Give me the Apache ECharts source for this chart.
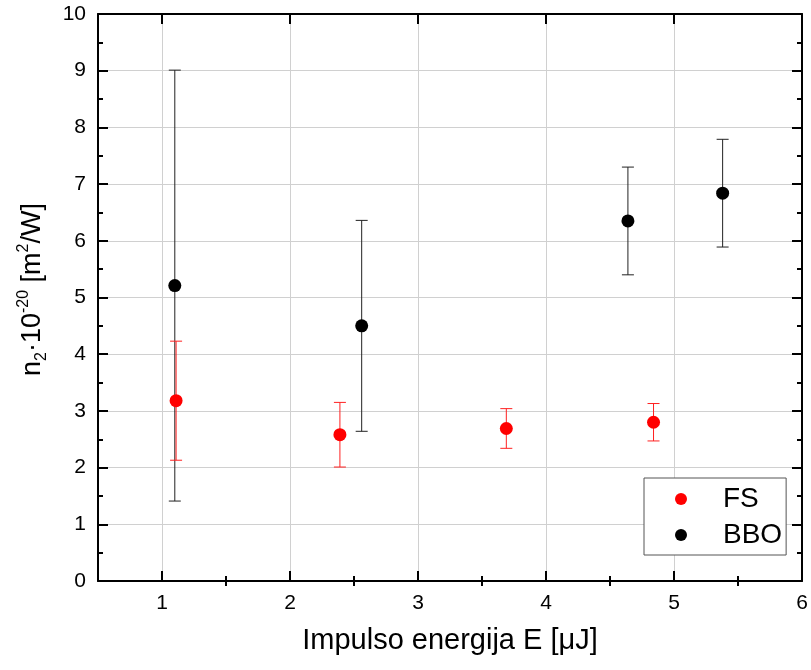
<!DOCTYPE html>
<html>
<head>
<meta charset="utf-8">
<script src="https://cdn.jsdelivr.net/npm/echarts@6/dist/echarts.min.js"></script>
<style>
html,body{margin:0;padding:0;background:#fff;}
#chart{width:811px;height:670px;}
</style>
</head>
<body>
<div id="chart"></div>
<script>
// ---- data ----
var fsX = [1.11, 2.39, 3.69, 4.84];
var fsY = [3.18, 2.58, 2.69, 2.80];
var fsErr = [1.05, 0.57, 0.35, 0.33];

var bboX = [1.10, 2.56, 4.64, 5.38];
var bboY = [5.21, 4.50, 6.35, 6.84];
var bboErr = [3.80, 1.86, 0.95, 0.95];

var xTickValues = [1, 2, 3, 4, 5, 6];
var xMinorValues = [1.5, 2.5, 3.5, 4.5, 5.5];
var yTickValues = [0, 1, 2, 3, 4, 5, 6, 7, 8, 9, 10];
var yMinorValues = [0.5, 1.5, 2.5, 3.5, 4.5, 5.5, 6.5, 7.5, 8.5, 9.5];
var seriesNames = ['FS', 'BBO'];

var FONT = 'Liberation Sans, Arial, sans-serif';

function pts(xs, ys) { return xs.map(function (x, i) { return [x, ys[i]]; }); }
function errs(xs, ys, es) { return xs.map(function (x, i) { return [x, ys[i] - es[i], ys[i] + es[i]]; }); }

function errRender(color) {
  return function (params, api) {
    var x = api.value(0);
    var lo = api.coord([x, api.value(1)]);
    var hi = api.coord([x, api.value(2)]);
    var w = 6;
    var st = { stroke: color, lineWidth: 1 };
    return {
      type: 'group',
      children: [
        { type: 'line', shape: { x1: lo[0], y1: lo[1], x2: hi[0], y2: hi[1] }, style: st },
        { type: 'line', shape: { x1: lo[0] - w, y1: lo[1], x2: lo[0] + w, y2: lo[1] }, style: st },
        { type: 'line', shape: { x1: hi[0] - w, y1: hi[1], x2: hi[0] + w, y2: hi[1] }, style: st }
      ]
    };
  };
}

var chart = echarts.init(document.getElementById('chart'), null, { renderer: 'canvas' });

var axisLine = { show: true, onZero: false, lineStyle: { color: '#000', width: 2 } };
var noLine = { show: false };
var noLabel = { show: false };
var noSplit = { show: false };
var tickStyle = { color: '#000', width: 2 };

function xTickAxis(pos, values, len, withLine) {
  return {
    type: 'value', position: pos, min: 0.5, max: 6, z: 5,
    axisLine: withLine ? axisLine : noLine,
    axisTick: { show: true, inside: true, length: len, customValues: values, lineStyle: tickStyle },
    axisLabel: noLabel, splitLine: noSplit
  };
}
function yTickAxis(pos, values, len, withLine) {
  return {
    type: 'value', position: pos, min: 0, max: 10, z: 5,
    axisLine: withLine ? axisLine : noLine,
    axisTick: { show: true, inside: true, length: len, customValues: values, lineStyle: tickStyle },
    axisLabel: noLabel, splitLine: noSplit
  };
}

var option = {
  animation: false,
  backgroundColor: '#fff',
  grid: { left: 98, right: 9, top: 14, bottom: 89, containLabel: false },
  legend: {
    data: seriesNames,
    orient: 'vertical',
    left: 644,
    top: 478,
    padding: [7, 4, 6, 31],
    itemGap: 8,
    itemWidth: 12,
    itemHeight: 12,
    icon: 'circle',
    backgroundColor: '#fff',
    borderColor: '#555',
    borderWidth: 1,
    borderRadius: 0,
    textStyle: { fontFamily: FONT, fontSize: 28, color: '#000', padding: [0, 0, 0, 31] }
  },
  xAxis: [
    {
      // data axis: grid lines, labels, title
      type: 'value', position: 'bottom', min: 0.5, max: 6, z: 0,
      axisLine: noLine,
      axisTick: { show: false, customValues: xTickValues },
      axisLabel: { show: true, customValues: xTickValues, fontFamily: FONT, fontSize: 21, color: '#000', margin: 12 },
      splitLine: { show: true, lineStyle: { color: '#d0d0d0', width: 1 } },
      name: 'Impulso energija E [\u03bcJ]',
      nameLocation: 'middle',
      nameGap: 45,
      nameTextStyle: { fontFamily: FONT, fontSize: 29, color: '#000' }
    },
    xTickAxis('bottom', xTickValues, 10, true),
    xTickAxis('bottom', xMinorValues, 5, false),
    xTickAxis('top', xTickValues, 10, true),
    xTickAxis('top', xMinorValues, 5, false)
  ],
  yAxis: [
    {
      type: 'value', position: 'left', min: 0, max: 10, interval: 1, z: 0,
      axisLine: noLine,
      axisTick: { show: false },
      axisLabel: { show: true, fontFamily: FONT, fontSize: 21, color: '#000', margin: 12 },
      splitLine: { show: true, lineStyle: { color: '#d0d0d0', width: 1 } },
      name: '{m|n}{sub|2}{m|\u00b710}{sup|-20}{m| [m}{sup|2}{m|/W]}',
      nameLocation: 'middle',
      nameRotate: 90,
      nameGap: 48,
      nameTextStyle: {
        fontFamily: FONT, fontSize: 27, color: '#000',
        padding: [0, 0, 0, 16],
        rich: {
          m: { fontFamily: FONT, fontSize: 27, lineHeight: 34, color: '#000' },
          sup: { fontFamily: FONT, fontSize: 16, lineHeight: 12, verticalAlign: 'top', color: '#000' },
          sub: { fontFamily: FONT, fontSize: 16, lineHeight: 12, verticalAlign: 'bottom', color: '#000' }
        }
      }
    },
    yTickAxis('left', yTickValues, 10, true),
    yTickAxis('left', yMinorValues, 5, false),
    yTickAxis('right', yTickValues, 10, true),
    yTickAxis('right', yMinorValues, 5, false)
  ],
  series: [
    { name: 'BBO err', type: 'custom', xAxisIndex: 0, yAxisIndex: 0,
      renderItem: errRender('#222'), data: errs(bboX, bboY, bboErr), z: 2, silent: true },
    { name: 'FS err', type: 'custom', xAxisIndex: 0, yAxisIndex: 0,
      renderItem: errRender('#ff2020'), data: errs(fsX, fsY, fsErr), z: 2, silent: true },
    { name: 'FS', type: 'scatter', xAxisIndex: 0, yAxisIndex: 0, symbol: 'circle', symbolSize: 13,
      itemStyle: { color: '#ff0000', opacity: 1 }, data: pts(fsX, fsY), z: 3 },
    { name: 'BBO', type: 'scatter', xAxisIndex: 0, yAxisIndex: 0, symbol: 'circle', symbolSize: 13,
      itemStyle: { color: '#000000', opacity: 1 }, data: pts(bboX, bboY), z: 3 }
  ]
};
chart.setOption(option);
</script>
</body>
</html>
